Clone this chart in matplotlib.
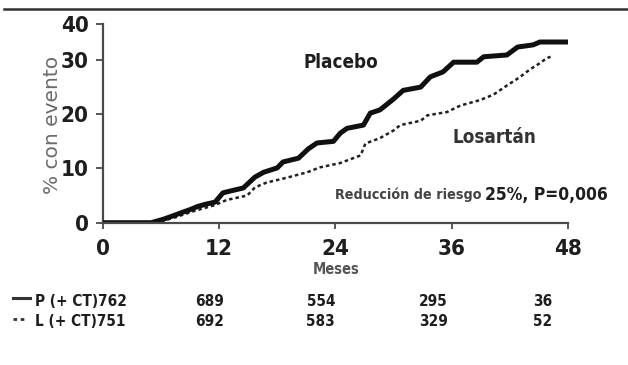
import numpy as np
import matplotlib
matplotlib.use("Agg")
import matplotlib.pyplot as plt
from matplotlib.lines import Line2D
from matplotlib import transforms

# Kaplan-Meier style cumulative event curves (% with event vs months)
placebo_t = [0, 5.0, 6.2, 7.3, 8.2, 9.0, 9.8, 10.6, 11.6, 12.4, 13.3, 14.5, 15.7, 16.6,
             18.0, 18.6, 20.2, 21.2, 22.1, 23.8, 24.5, 25.2, 26.9, 27.6, 28.6, 30.0,
             31.0, 32.8, 33.8, 35.1, 36.2, 38.6, 39.3, 41.7, 42.8, 44.4, 45.1, 48.0]
placebo_v = [0, 0, 0.6, 1.3, 1.9, 2.4, 3.0, 3.4, 3.8, 5.5, 5.9, 6.4, 8.4, 9.3,
             10.1, 11.2, 11.9, 13.6, 14.7, 15.0, 16.5, 17.4, 18.0, 20.2, 20.8, 22.8,
             24.4, 25.0, 26.9, 27.8, 29.6, 29.6, 30.9, 31.4, 33.6, 34.2, 35.0, 35.0]

losartan_t = [0, 5.0, 6.5, 7.5, 8.5, 9.5, 10.5, 11.5, 12.8, 14.9, 15.7, 16.9, 19.0,
              21.1, 22.4, 24.5, 26.6, 27.1, 28.6, 30.0, 30.7, 32.8, 33.5, 35.5, 36.9,
              38.9, 40.3, 41.7, 43.0, 44.1, 45.0, 45.8, 46.2]
losartan_v = [0, 0, 0.5, 1.0, 1.6, 2.2, 2.7, 3.2, 4.2, 5.0, 6.5, 7.4, 8.3,
              9.3, 10.2, 11.0, 12.4, 14.6, 15.6, 17.0, 18.0, 18.8, 19.8, 20.4, 21.6,
              22.6, 23.6, 25.3, 26.8, 28.3, 29.3, 30.5, 30.9]

x_ticks = [0, 12, 24, 36, 48]
y_ticks = [0, 10, 20, 30, 40]

# Patients at risk
risk_labels = ["P (+ CT)762", "L (+ CT)751"]
risk_placebo = [689, 554, 295, 36]
risk_losartan = [692, 583, 329, 52]

FONT = dict(family=["DejaVu Sans"], fontstretch="condensed", fontweight="bold")
INK = "#1e1e1e"
GREY = "#4a4a4a"

W, H = 628, 365
fig = plt.figure(figsize=(W / 100, H / 100), dpi=100)
fig.patch.set_facecolor("white")


def fx(px):
    return px / W


def fy(py):
    return 1 - py / H


ax = fig.add_axes([fx(102.7), fy(222.7), fx(568) - fx(102.7), fy(24) - fy(222.7)])


# The y axis compresses its upper decade (30-40)
def _fwd(y):
    y = np.asarray(y, dtype=float)
    return np.where(y <= 30, y, 30 + (y - 30) * 0.664)


def _inv(y):
    y = np.asarray(y, dtype=float)
    return np.where(y <= 30, y, 30 + (y - 30) / 0.664)


ax.set_yscale("function", functions=(_fwd, _inv))

ax.plot(placebo_t, placebo_v, color="#101010", lw=3.6,
        solid_joinstyle="round", solid_capstyle="butt", zorder=3)
ax.plot(losartan_t, losartan_v, color="#202020", lw=1.8,
        linestyle=(0, (1.4, 1.2)), zorder=2)

ax.set_xlim(0, 48)
ax.set_ylim(0, 40)
ax.set_xticks(x_ticks)
ax.set_yticks(y_ticks)
ax.set_xticklabels([str(v) for v in x_ticks])
ax.set_yticklabels([str(v) for v in y_ticks])
ax.minorticks_off()

for side in ("top", "right"):
    ax.spines[side].set_visible(False)
for side in ("left", "bottom"):
    ax.spines[side].set_color(GREY)
    ax.spines[side].set_linewidth(1.6)
ax.spines["bottom"].set_zorder(4)

ax.tick_params(axis="x", direction="out", length=4, width=1.3, color=GREY, pad=8,
               labelsize=16, labelcolor=INK)
ax.tick_params(axis="y", direction="out", length=5, width=1.3, color=GREY, pad=5,
               labelsize=16, labelcolor=INK)
for lab in ax.get_xticklabels() + ax.get_yticklabels():
    lab.set_family(FONT["family"])
    lab.set_fontstretch("condensed")
    lab.set_fontweight("bold")

# Axis titles
fig.text(fx(53), fy(125), "% con evento", rotation=90, ha="center", va="center",
         fontsize=14.5, color="#6a6a6a", family=["DejaVu Sans"])
fig.text(fx(336), fy(270), "Meses", ha="center", va="center",
         fontsize=10.5, color="#555555", **FONT)

# Curve annotations
ax.text(20.7, 29.6, "Placebo", ha="left", va="center", fontsize=13.5,
        color=INK, **FONT)
ax.text(36.1, 15.8, "Losartán", ha="left", va="center", fontsize=13.5,
        color="#333333", **FONT)
t1 = ax.text(24.0, 5.1, "Reducción de riesgo", ha="left", va="center", fontsize=10.3,
             color="#444444", **FONT)
ax.annotate("25%, P=0,006", xy=(1, 0.5), xycoords=t1, xytext=(2, 0),
            textcoords="offset points", ha="left", va="center", fontsize=12.5,
            color=INK, **FONT)

# Patients-at-risk table below the axis
risk_cols = [11.0, 22.5, 34.1, 45.4]  # column centres in months
row_y = [fy(301.5), fy(321.5)]
blend = transforms.blended_transform_factory(ax.transData, fig.transFigure)
for yy, lab, vals in zip(row_y, risk_labels, [risk_placebo, risk_losartan]):
    fig.text(fx(35), yy, lab, ha="left", va="center", fontsize=11,
             color=INK, **FONT)
    for xc, v in zip(risk_cols, vals):
        ax.text(xc, yy, str(v), transform=blend, ha="center", va="center",
                fontsize=11, color=INK, clip_on=False, **FONT)

# Line-style keys in front of the table rows
fig.add_artist(Line2D([fx(13), fx(30)], [fy(298), fy(298)], color="#333333", lw=2.2))
fig.add_artist(Line2D([fx(13), fx(24)], [fy(318.5), fy(318.5)], color="#333333", lw=2.0,
                      linestyle=(0, (1.3, 1.3))))

# Rule across the top
fig.add_artist(Line2D([fx(4), fx(628)], [fy(9), fy(9)], color="#333333", lw=1.8))

fig.savefig("out.png", dpi=100, facecolor="white")
